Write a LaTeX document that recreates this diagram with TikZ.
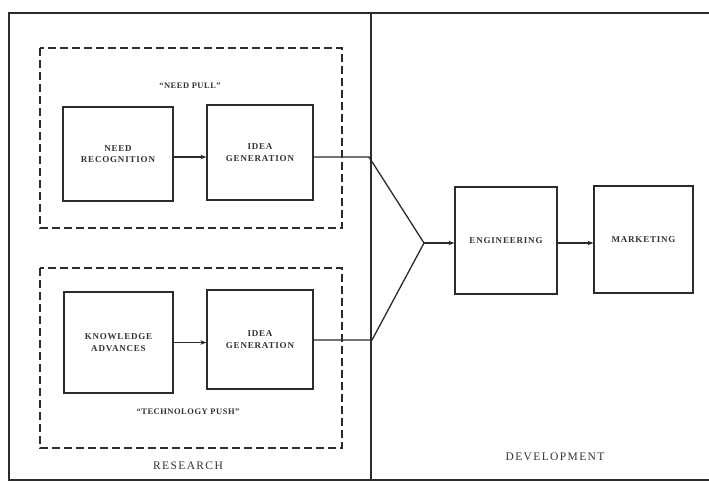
\documentclass[tikz,border=0pt]{standalone}
\usepackage{fontspec}
\setmainfont{Liberation Serif}
\usetikzlibrary{arrows.meta}
\definecolor{ink}{HTML}{2B2B2B}
\definecolor{txt}{HTML}{333333}
\tikzset{
  blk/.style={draw=ink, line width=1.2pt, minimum width=#1, inner sep=0pt, align=center,
    text=txt, font=\fontsize{9}{11.5}\selectfont\bfseries\addfontfeatures{LetterSpace=9}},
  grp/.style={draw=ink, line width=1.3pt, dash pattern=on 8pt off 4pt},
  lnk/.style={draw=ink, line width=1.3pt},
  arr/.style={lnk, -{Stealth[length=6pt,width=4.5pt]}},
  tag/.style={text=txt, inner sep=0pt, font=\fontsize{8.5}{10}\selectfont\bfseries\addfontfeatures{LetterSpace=6}},
  area/.style={text=txt, inner sep=0pt, font=\fontsize{11.5}{13}\selectfont\addfontfeatures{LetterSpace=12}}
}
\begin{document}
\begin{tikzpicture}[x=1pt, y=-1pt]
\useasboundingbox[fill=white] (0,0) rectangle (709,483);

% outer frame and research / development divider
\draw[ink, line width=1.4pt] (709,13) -- (9,13) -- (9,480) -- (709,480);
\draw[ink, line width=1.4pt] (371,13) -- (371,480);

% dashed groups
\draw[grp] (40,48) rectangle (342,228);
\draw[grp] (40,268) rectangle (342,448);

% group labels
\node[tag] (pull) at (190,86) {“NEED PULL”};
\node[tag] (push) at (188,412) {“TECHNOLOGY PUSH”};

% research blocks
\node[blk=110pt, minimum height=94pt] (need) at (118,154) {NEED\\RECOGNITION};
\node[blk=106pt, minimum height=95pt] (idea1) at (260,152.5) {IDEA\\GENERATION};
\node[blk=109pt, minimum height=101pt] (know) at (118.5,342.5) {KNOWLEDGE\\ADVANCES};
\node[blk=106pt, minimum height=99pt] (idea2) at (260,339.5) {IDEA\\GENERATION};

% development blocks
\node[blk=102pt, minimum height=107pt] (eng) at (506,240.5) {ENGINEERING};
\node[blk=99pt, minimum height=107pt] (mkt) at (643.5,239.5) {MARKETING};

% area labels
\node[area] (res) at (188,466) {RESEARCH};
\node[area] (dev) at (555,457) {DEVELOPMENT};

% junction points of the merging flow
\coordinate (j1) at (369,157);
\coordinate (j2) at (372,340);
\coordinate (apex) at (424,243);

% connectors
\draw[arr] ([yshift=-3pt]need.east) -- ([yshift=-3pt]need.east -| idea1.west);
\draw[arr] (know.east) -- (know.east -| idea2.west);
\draw[lnk] (idea1.east |- j1) -- (j1) -- (apex);
\draw[lnk] (idea2.east |- j2) -- (j2) -- (apex);
\draw[arr] (apex) -- (apex -| eng.west);
\draw[arr] (eng.east |- apex) -- (apex -| mkt.west);
\end{tikzpicture}
\end{document}
